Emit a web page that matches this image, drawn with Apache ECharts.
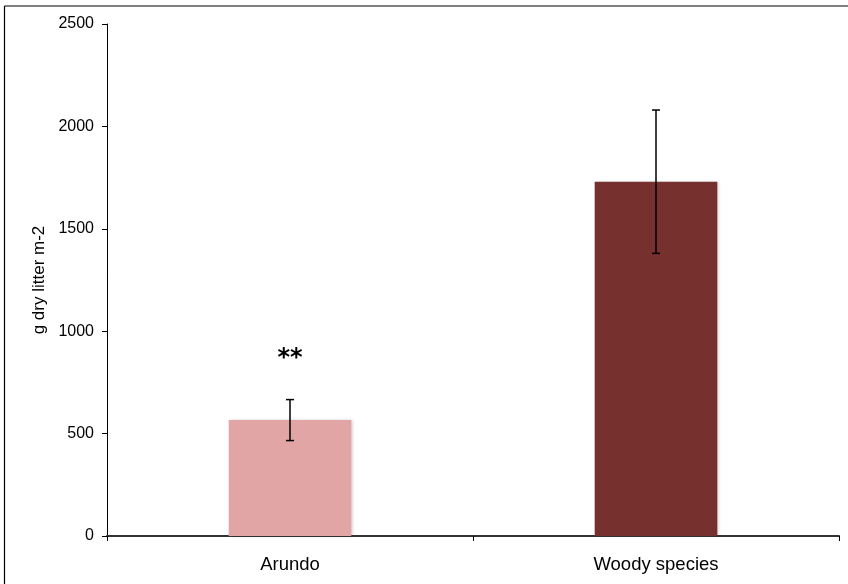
<!DOCTYPE html>
<html>
<head>
<meta charset="utf-8">
<script src="https://cdn.jsdelivr.net/npm/echarts@6/dist/echarts.min.js"></script>
<style>
  html, body { margin: 0; padding: 0; background: #fff; }
  #chart { width: 848px; height: 584px; }
</style>
</head>
<body>
<div id="chart"></div>
<script>
// Litter biomass by vegetation type
const categories = ['Arundo', 'Woody species'];
const litterMeans = [566, 1730];
const litterErrors = [100, 350];
const barColors = ['#E1A5A5', '#76312E'];
const significance = ['**', ''];
const yTicks = { min: 0, max: 2500, interval: 500 };

const FONT = 'Liberation Sans, Arial, Helvetica, sans-serif';

const chart = echarts.init(document.getElementById('chart'), null, { renderer: 'canvas' });

const barData = litterMeans.map((v, i) => ({
  value: v,
  itemStyle: { color: barColors[i] }
}));

const errData = litterMeans.map((v, i) => [i, v - litterErrors[i], v + litterErrors[i]]);

chart.setOption({
  animation: false,
  backgroundColor: '#fff',
  grid: { left: 107, right: 9, top: 24, bottom: 48, containLabel: false },
  xAxis: {
    type: 'category',
    data: categories,
    axisLine: { lineStyle: { color: '#333', width: 2 } },
    axisTick: { show: true, length: 5, lineStyle: { color: '#000', width: 1 } },
    axisLabel: { color: '#000', fontSize: 18.5, fontFamily: FONT, margin: 19 }
  },
  yAxis: {
    type: 'value',
    min: yTicks.min,
    max: yTicks.max,
    interval: yTicks.interval,
    name: 'g dry litter m-2',
    nameLocation: 'middle',
    nameGap: 56,
    nameRotate: 90,
    nameTextStyle: { color: '#000', fontSize: 17, fontFamily: FONT },
    axisLine: { show: true, lineStyle: { color: '#000', width: 1 } },
    axisTick: { show: true, length: 5, lineStyle: { color: '#000' } },
    axisLabel: {
      color: '#000', fontSize: 16, fontFamily: FONT, margin: 13,
      formatter: function (v) { return String(v); }
    },
    splitLine: { show: false }
  },
  series: [
    {
      type: 'bar',
      data: barData,
      barWidth: '33.5%',
      itemStyle: {
        shadowColor: 'rgba(0,0,0,0.18)',
        shadowBlur: 3,
        shadowOffsetX: 2
      }
    },
    {
      type: 'custom',
      data: errData,
      z: 10,
      renderItem: function (params, api) {
        const x = api.value(0);
        const lo = api.coord([x, api.value(1)]);
        const hi = api.coord([x, api.value(2)]);
        const half = 4;
        const style = { stroke: '#000', lineWidth: 1.5 };
        const children = [
          { type: 'line', shape: { x1: hi[0], y1: hi[1], x2: lo[0], y2: lo[1] }, style: style },
          { type: 'line', shape: { x1: hi[0] - half, y1: hi[1], x2: hi[0] + half, y2: hi[1] }, style: style },
          { type: 'line', shape: { x1: lo[0] - half, y1: lo[1], x2: lo[0] + half, y2: lo[1] }, style: style }
        ];
        const mark = significance[params.dataIndex];
        if (mark) {
          children.push({
            type: 'text',
            style: {
              text: mark,
              x: hi[0],
              y: hi[1] - 41,
              fill: '#000',
              font: 'bold 24px DejaVu Sans, sans-serif',
              align: 'center',
              verticalAlign: 'middle'
            }
          });
        }
        return { type: 'group', children: children };
      }
    }
  ],
  graphic: [
    { type: 'line', shape: { x1: 4.5, y1: 6, x2: 4.5, y2: 584 }, style: { stroke: '#000', lineWidth: 1.2 } },
    { type: 'line', shape: { x1: 4.5, y1: 6, x2: 848, y2: 6 }, style: { stroke: '#000', lineWidth: 1.2 } }
  ]
});
</script>
</body>
</html>
